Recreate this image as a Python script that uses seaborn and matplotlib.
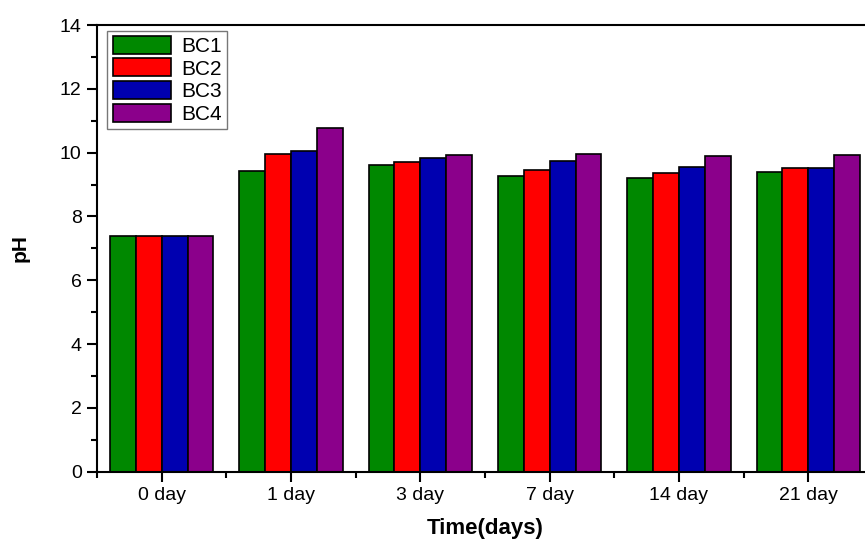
import matplotlib
matplotlib.use("Agg")
import matplotlib.pyplot as plt
import seaborn as sns
import pandas as pd
from matplotlib.ticker import MultipleLocator, FixedLocator

categories = ["0 day", "1 day", "3 day", "7 day", "14 day", "21 day"]
series_names = ["BC1", "BC2", "BC3", "BC4"]
bc1 = [7.40, 9.43, 9.60, 9.26, 9.22, 9.40]
bc2 = [7.40, 9.96, 9.72, 9.46, 9.37, 9.51]
bc3 = [7.40, 10.05, 9.82, 9.75, 9.55, 9.51]
bc4 = [7.40, 10.78, 9.92, 9.95, 9.91, 9.93]
colors = ["#008800", "#FF0000", "#0000B0", "#8B008B"]

rows = []
for name, vals in zip(series_names, [bc1, bc2, bc3, bc4]):
    for c, v in zip(categories, vals):
        rows.append({"Time": c, "pH": v, "Series": name})
df = pd.DataFrame(rows)

sns.set_style("ticks")
plt.rcParams["font.family"] = ["Liberation Sans", "DejaVu Sans"]
plt.rcParams["text.color"] = "black"
plt.rcParams["axes.labelcolor"] = "black"
plt.rcParams["xtick.color"] = "black"
plt.rcParams["ytick.color"] = "black"

fig = plt.figure(figsize=(8.65, 5.4), dpi=100)
ax = fig.add_axes([97 / 865, 1 - 471.7 / 540, (873 - 97) / 865, (471.7 - 25) / 540])

sns.barplot(data=df, x="Time", y="pH", hue="Series", order=categories,
            hue_order=series_names, palette=colors, width=0.8,
            edgecolor="black", linewidth=1.2, saturation=1, ax=ax, errorbar=None)

ax.set_xlim(-0.5, 5.5)
ax.set_ylim(0, 14)
ax.yaxis.set_major_locator(MultipleLocator(2))
ax.yaxis.set_minor_locator(MultipleLocator(1))
ax.xaxis.set_minor_locator(FixedLocator([i + 0.5 for i in range(-1, 6)]))
ax.tick_params(axis="both", which="major", direction="out", length=7, width=1.5,
               labelsize=14, colors="black", labelcolor="black", pad=4)
ax.tick_params(axis="both", which="minor", direction="out", length=4, width=1.5, colors="black")
for s in ["left", "bottom", "top", "right"]:
    ax.spines[s].set_visible(True)
    ax.spines[s].set_linewidth(1.5)
    ax.spines[s].set_color("black")

ax.set_ylabel("pH", fontsize=15, fontweight="bold", labelpad=22, color="black")
ax.set_xlabel("Time(days)", fontsize=16, fontweight="bold", labelpad=10, color="black")

leg = ax.legend(loc="upper left", bbox_to_anchor=(0.008, 0.997), fontsize=15,
                frameon=True, fancybox=False, edgecolor="#555555",
                handlelength=2.8, handleheight=0.95, labelspacing=0.12,
                borderpad=0.25, handletextpad=0.5, borderaxespad=0.2)
leg.get_frame().set_linewidth(1.0)
for t in leg.get_texts():
    t.set_color("black")

fig.savefig("out.png", dpi=100)
